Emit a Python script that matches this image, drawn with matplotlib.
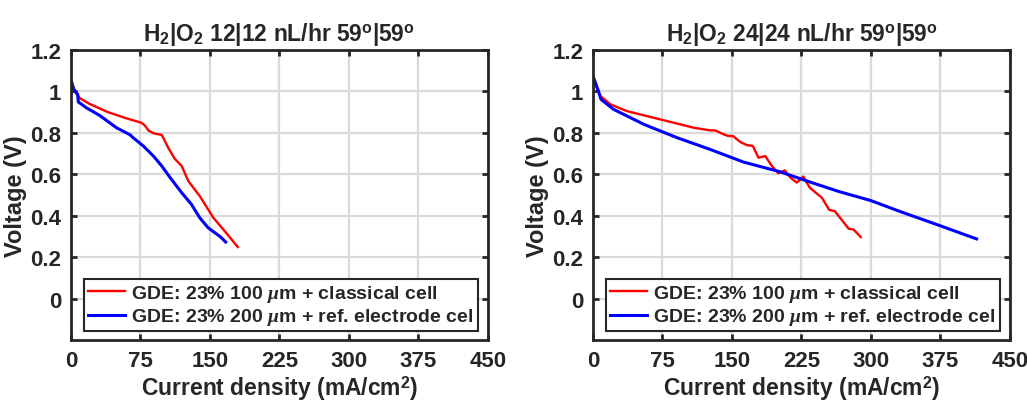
import matplotlib
matplotlib.use("Agg")
import matplotlib.pyplot as plt

plt.rcParams.update({
    "font.family": ["Liberation Sans", "DejaVu Sans"],
    "font.weight": "bold",
    "mathtext.fontset": "custom",
    "mathtext.rm": "Liberation Sans:bold",
    "mathtext.bf": "Liberation Sans:bold",
    "mathtext.it": "Liberation Serif:italic",
    "text.color": "#262626",
    "axes.labelcolor": "#262626",
    "xtick.color": "#262626",
    "ytick.color": "#262626",
})

# ---- 12|12 nL/hr ----
i12_classical = [0, 0.7, 4, 9.7, 20, 40, 60, 76, 80, 83.5, 89, 98, 105, 112, 119.5,
                 126.7, 133, 139, 153.7, 167, 180]
v12_classical = [1.06, 1.054, 1.00, 0.967, 0.94, 0.90, 0.87, 0.849, 0.835, 0.812, 0.798,
                 0.79, 0.728, 0.675, 0.64, 0.567, 0.53, 0.495, 0.39, 0.32, 0.249]
i12_ref = [0, 3, 7.2, 8, 17, 31, 49, 64, 67, 78, 89, 98, 107, 119.5, 130, 139, 148,
           161, 167]
v12_ref = [1.05, 1.01, 0.986, 0.949, 0.92, 0.884, 0.825, 0.790, 0.777, 0.737, 0.688,
           0.64, 0.584, 0.511, 0.455, 0.39, 0.342, 0.299, 0.273]

# ---- 24|24 nL/hr ----
i24_classical = [0, 0.7, 8, 18.7, 36.7, 72.6, 108.6, 126.5, 132, 141, 146, 151, 159, 166,
                 172.5, 178.6, 186, 193, 200, 207, 213, 220, 227, 234, 247, 255, 261,
                 276, 281, 289]
v24_classical = [1.06, 1.05, 0.978, 0.938, 0.905, 0.865, 0.825, 0.812, 0.812, 0.793,
                 0.785, 0.785, 0.756, 0.741, 0.737, 0.68, 0.688, 0.64, 0.605, 0.619,
                 0.584, 0.56, 0.589, 0.535, 0.487, 0.428, 0.422, 0.337, 0.334, 0.297]
i24_ref = [0, 0.7, 6, 8.6, 22, 55, 90.6, 126.5, 162.5, 202, 234, 266, 300, 331,
           374.5, 414]
v24_ref = [1.07, 1.066, 1.0, 0.962, 0.914, 0.841, 0.777, 0.72, 0.659, 0.612, 0.563,
           0.516, 0.473, 0.421, 0.352, 0.288]

labels = [r"GDE: 23% 100 $\mu$m + classical cell",
          r"GDE: 23% 200 $\mu$m + ref. electrode cel"]
titles = [r"H$_2$|O$_2$ 12|12 nL/hr 59$^{\mathrm{o}}$|59$^{\mathrm{o}}$",
          r"H$_2$|O$_2$ 24|24 nL/hr 59$^{\mathrm{o}}$|59$^{\mathrm{o}}$"]
x_ticks = [0, 75, 150, 225, 300, 375, 450]
y_ticks = [0, 0.2, 0.4, 0.6, 0.8, 1.0, 1.2]
y_ticklabels = ["0", "0.2", "0.4", "0.6", "0.8", "1", "1.2"]

panels = [
    (i12_classical, v12_classical, i12_ref, v12_ref, titles[0]),
    (i24_classical, v24_classical, i24_ref, v24_ref, titles[1]),
]

fig = plt.figure(figsize=(10.27, 4.02), dpi=100)
lefts = [0.0691, 0.5774]

for left, (xc, yc, xr, yr, title) in zip(lefts, panels):
    ax = fig.add_axes([left, 0.1517, 0.406, 0.7214])
    ax.plot(xc, yc, color="#ff0000", lw=1.7, label=labels[0])
    ax.plot(xr, yr, color="#0000ff", lw=2.2, label=labels[1])
    ax.set_xlim(0, 450)
    ax.set_ylim(-0.2, 1.2)
    ax.set_xticks(x_ticks)
    ax.set_yticks(y_ticks)
    ax.set_yticklabels(y_ticklabels)
    ax.grid(True, color="#dadada", lw=1.6)
    ax.set_axisbelow(True)
    ax.tick_params(direction="in", length=4, width=2, labelsize=16,
                   top=True, right=True, pad=7)
    for lab in ax.get_xticklabels() + ax.get_yticklabels():
        lab.set_fontweight("bold")
    for sp in ax.spines.values():
        sp.set_linewidth(2.0)
        sp.set_color("#262626")
    ax.set_xlabel(r"Current density (mA/cm$^2$)", fontsize=16.5, fontweight="bold",
                  labelpad=2)
    ax.set_ylabel("Voltage (V)", fontsize=17, fontweight="bold", labelpad=2)
    ax.set_title(title, fontsize=16.5, fontweight="bold", pad=7)
    leg = ax.legend(loc="lower right", bbox_to_anchor=(0.975, 0.03),
                    prop={"weight": "bold", "size": 14}, frameon=True,
                    fancybox=False, borderpad=0.2, labelspacing=0.15,
                    handlelength=1.9, handletextpad=0.3, borderaxespad=0)
    leg.get_frame().set_edgecolor("#262626")
    leg.get_frame().set_linewidth(1.5)
    leg.get_frame().set_alpha(1)

fig.savefig("out.png", dpi=100)
